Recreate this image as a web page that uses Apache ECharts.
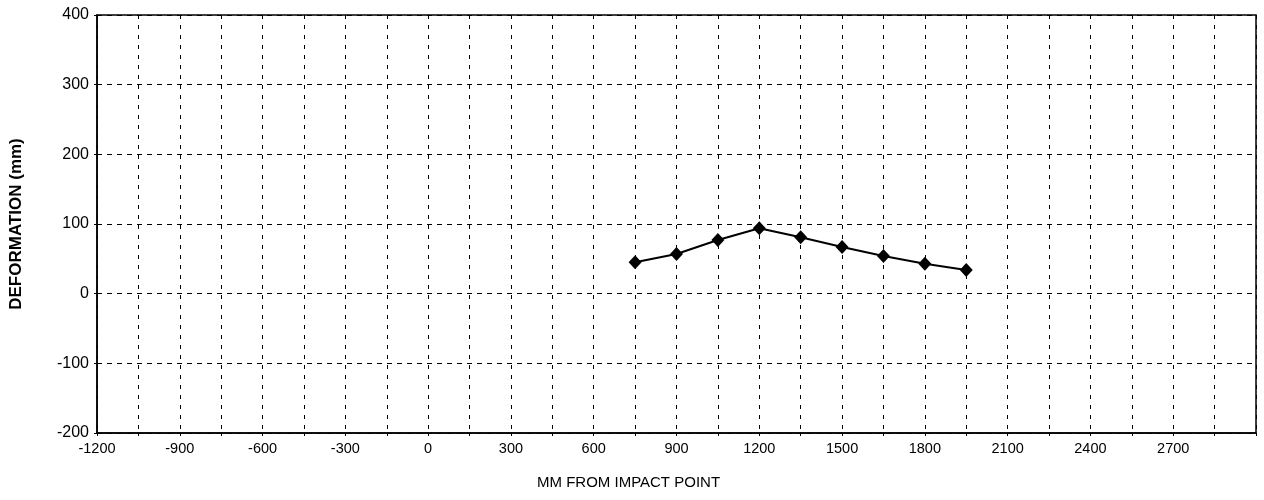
<!DOCTYPE html>
<html>
<head>
<meta charset="utf-8">
<script src="https://cdn.jsdelivr.net/npm/echarts@6/dist/echarts.min.js"></script>
<style>
html,body{margin:0;padding:0;background:#fff;}
#chart{width:1264px;height:500px;}
</style>
</head>
<body>
<div id="chart"></div>
<script>
const xValues = [750, 900, 1050, 1200, 1350, 1500, 1650, 1800, 1950];
const deformation = [45, 57, 77, 94, 81, 67, 54, 43, 34];
const xTickLabels = [-1200, -900, -600, -300, 0, 300, 600, 900, 1200, 1500, 1800, 2100, 2400, 2700];
const yTickLabels = [-200, -100, 0, 100, 200, 300, 400];

const chart = echarts.init(document.getElementById('chart'));
const font = '"Liberation Sans", Arial, sans-serif';
chart.setOption({
  animation: false,
  backgroundColor: '#fff',
  title: {
    text: 'MM FROM IMPACT POINT',
    left: 537, top: 475, padding: 0,
    textStyle: {fontFamily: font, fontSize: 15, fontWeight: 'normal', color: '#000'}
  },
  grid: {left: 97, right: 8, top: 15, bottom: 67, show: true, borderColor: '#000', borderWidth: 1.5, backgroundColor: 'transparent'},
  xAxis: {
    type: 'value', min: -1200, max: 3000, interval: 150,
    axisLine: {show: true, onZero: false, lineStyle: {color: '#000', width: 1.5}},
    axisTick: {show: true, length: 3, inside: false, lineStyle: {color: '#000'}},
    axisLabel: {
      fontFamily: font, fontSize: 14.5, color: '#000', margin: 8,
      formatter: v => xTickLabels.indexOf(v) >= 0 ? String(v) : ''
    },
    splitLine: {show: true, lineStyle: {color: '#000', type: [4, 6], width: 1}}
  },
  yAxis: {
    type: 'value', min: -200, max: 400, interval: 100,
    name: 'DEFORMATION (mm)', nameLocation: 'middle', nameGap: 72, nameRotate: 90,
    nameTextStyle: {fontFamily: font, fontSize: 17, fontWeight: 'bold', color: '#000'},
    axisLine: {show: true, onZero: false, lineStyle: {color: '#000', width: 1.5}},
    axisTick: {show: true, length: 3, lineStyle: {color: '#000'}},
    axisLabel: {
      fontFamily: font, fontSize: 16, color: '#000', margin: 8,
      formatter: v => yTickLabels.indexOf(v) >= 0 ? String(v) : ''
    },
    splitLine: {show: true, lineStyle: {color: '#000', type: [5, 5], width: 1}}
  },
  series: [{
    type: 'line',
    data: xValues.map((x, i) => [x, deformation[i]]),
    symbol: 'diamond', symbolSize: [13, 14],
    itemStyle: {color: '#000'},
    lineStyle: {color: '#000', width: 2}
  }]
});
</script>
</body>
</html>
